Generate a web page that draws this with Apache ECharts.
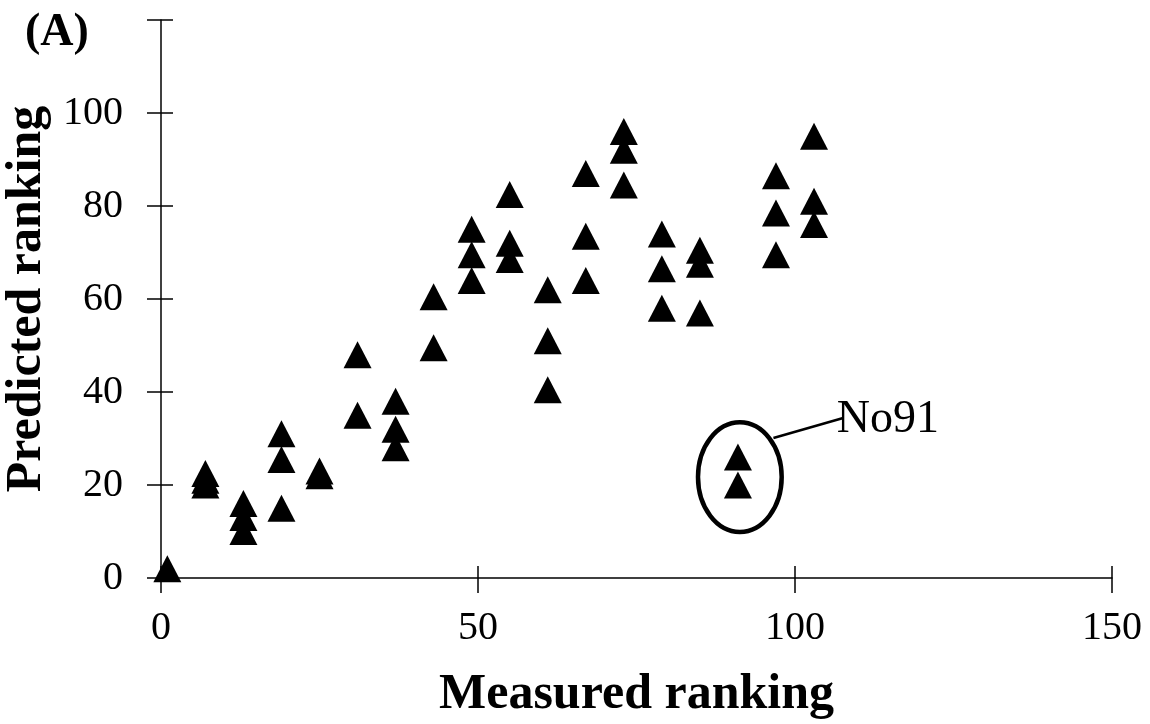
<!DOCTYPE html>
<html>
<head>
<meta charset="utf-8">
<script src="https://cdn.jsdelivr.net/npm/echarts@6/dist/echarts.min.js"></script>
<style>
html,body{margin:0;padding:0;background:#fff;}
#chart{width:1150px;height:724px;}
</style>
</head>
<body>
<div id="chart"></div>
<script>
// Data
const measuredRanking = [1, 7, 7, 7, 13, 13, 13, 19, 19, 19, 25, 25, 31, 31, 37, 37, 37, 43, 43, 49, 49, 49, 55, 55, 55, 61, 61, 61, 67, 67, 67, 73, 73, 73, 79, 79, 79, 85, 85, 85, 91, 91, 97, 97, 97, 103, 103, 103];
const predictedRanking = [2, 22.5, 21, 20, 16, 13, 10, 31, 25.5, 15, 23, 22, 48, 35, 38, 32, 28, 60.5, 49.5, 75, 69.5, 64, 82.5, 72, 68.5, 62, 51, 40.5, 87, 73.5, 64, 96, 92, 84.5, 74, 66.5, 58, 70.5, 67.5, 57, 26, 20, 86.5, 78.5, 69.5, 95, 81, 76];
const xTicks = [0, 50, 100, 150];
const yTicks = [0, 20, 40, 60, 80, 100];
const outlierLabel = 'No91';

const points = measuredRanking.map((x, i) => [x, predictedRanking[i]]);
const FONT = "'Liberation Serif', 'Times New Roman', serif";

const chart = echarts.init(document.getElementById('chart'), null, {renderer: 'canvas'});

const axisLine = {show: true, onZero: false, lineStyle: {color: '#000', width: 1.5}};

const option = {
  backgroundColor: '#fff',
  animation: false,
  grid: {left: 161, right: 38, top: 20, bottom: 146, containLabel: false, outerBoundsMode: 'none'},
  xAxis: [{
    type: 'value', min: 0, max: 150, interval: 50, position: 'bottom',
    axisLine: axisLine,
    axisTick: {show: true, inside: false, length: 15, lineStyle: {color: '#000', width: 1.5}},
    axisLabel: {show: true, margin: 30, color: '#000', fontFamily: FONT, fontSize: 40,
      formatter: v => xTicks.includes(v) ? String(v) : ''},
    splitLine: {show: false},
    name: 'Measured ranking', nameLocation: 'middle', nameGap: 92,
    nameTextStyle: {color: '#000', fontFamily: FONT, fontSize: 50, fontWeight: 'bold'}
  }, {
    type: 'value', min: 0, max: 150, interval: 50, position: 'bottom',
    axisLine: {show: false},
    axisTick: {show: true, inside: true, length: 12, lineStyle: {color: '#000', width: 1.5}},
    axisLabel: {show: false}, splitLine: {show: false}
  }],
  yAxis: [{
    type: 'value', min: 0, max: 120, interval: 20, position: 'left',
    axisLine: axisLine,
    axisTick: {show: true, inside: false, length: 14, lineStyle: {color: '#000', width: 1.5}},
    axisLabel: {show: true, margin: 38, color: '#000', fontFamily: FONT, fontSize: 40,
      formatter: v => yTicks.includes(v) ? String(v) : ''},
    splitLine: {show: false},
    name: 'Predicted ranking', nameLocation: 'middle', nameGap: 94, nameRotate: 90,
    nameTextStyle: {color: '#000', fontFamily: FONT, fontSize: 50, fontWeight: 'bold'}
  }, {
    type: 'value', min: 0, max: 120, interval: 20, position: 'left',
    axisLine: {show: false},
    axisTick: {show: true, inside: true, length: 12, lineStyle: {color: '#000', width: 1.5}},
    axisLabel: {show: false}, splitLine: {show: false}
  }],
  series: [{
    type: 'scatter',
    xAxisIndex: 0, yAxisIndex: 0,
    data: points,
    symbol: 'triangle',
    symbolSize: [28, 27],
    itemStyle: {color: '#000', opacity: 1},
    emphasis: {disabled: true},
    z: 5
  }]
};
chart.setOption(option);

// Annotation around the outlier, placed through the chart's own scales
const p = v => chart.convertToPixel({xAxisIndex: 0, yAxisIndex: 0}, v);
const ellC = p([91.3, 21.7]);
const ellE = p([91.3 + 6.6, 21.7 + 11.8]);
const lineA = p([96.6, 30.1]);
const lineB = p([107.6, 34.4]);
const textP = p([106.6, 33.9]);

chart.setOption({
  graphic: [
    {type: 'text', left: 25, top: 10, z: 10,
      style: {text: '(A)', fill: '#000', font: "bold 46px " + FONT}},
    {type: 'ellipse', z: 10,
      shape: {cx: ellC[0], cy: ellC[1], rx: ellE[0] - ellC[0], ry: ellC[1] - ellE[1]},
      style: {fill: 'none', stroke: '#000', lineWidth: 4.5}},
    {type: 'line', z: 10,
      shape: {x1: lineA[0], y1: lineA[1], x2: lineB[0], y2: lineB[1]},
      style: {stroke: '#000', lineWidth: 2.5}},
    {type: 'text', z: 10, x: textP[0], y: textP[1],
      style: {text: outlierLabel, fill: '#000', font: "46px " + FONT, verticalAlign: 'middle', align: 'left'}}
  ]
});
</script>
</body>
</html>
